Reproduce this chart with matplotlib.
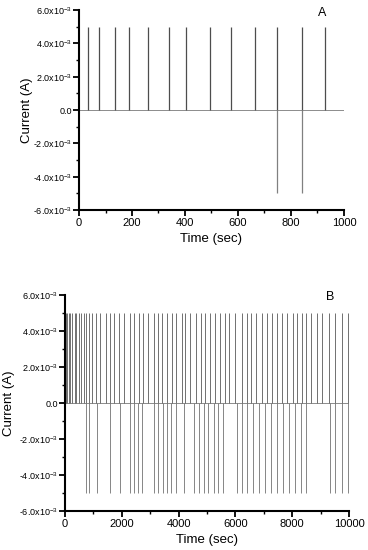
import matplotlib
matplotlib.use("Agg")
import matplotlib.pyplot as plt
from matplotlib.ticker import MultipleLocator, FuncFormatter

plt.rcParams["font.family"] = ["Liberation Sans", "DejaVu Sans"]
plt.rcParams["mathtext.fontset"] = "custom"
plt.rcParams["mathtext.rm"] = "Liberation Sans"
plt.rcParams["mathtext.it"] = "Liberation Sans:italic"
plt.rcParams["mathtext.bf"] = "Liberation Sans:bold"

PEAK = 5e-3

# panel A: 0-1000 s
a_up = [34, 77, 135, 190, 262, 340, 404, 494, 572, 664, 746, 841, 928]
a_down = [746, 841]

# panel B: 0-10000 s
b_up = [34, 77, 135, 190, 262, 340, 404, 494, 572, 664, 729, 846, 952,
        1105, 1246, 1434, 1598, 1727, 1904, 2068, 2303, 2421, 2609, 2750,
        2938, 3126, 3267, 3431, 3596, 3760, 3925, 4113, 4230, 4418, 4630,
        4794, 4935, 5123, 5276, 5452, 5640, 5781, 5993, 6228, 6416, 6533,
        6722, 6933, 7098, 7286, 7474, 7638, 7826, 8014, 8155, 8343, 8484,
        8649, 8860, 9048, 9307, 9495, 9753, 9965]
b_down = [729, 846, 1140, 1575, 1927, 2303, 2444, 2585, 2714, 3126, 3290,
          3455, 3596, 3737, 3901, 4207, 4559, 4724, 4888, 5053, 5241, 5394,
          5570, 6040, 6240, 6416, 6616, 6815, 7027, 7239, 7450, 7662, 7873,
          8108, 8296, 8484, 9330, 9507, 9753, 9965]


def y_fmt(v, pos):
    if abs(v) < 1e-9:
        return "0.0"
    return f"{v * 1e3:.1f}x10$^{{-3}}$"


def style_axis(ax, xmax, xmajor, xminor, tag, tag_xy, ylab_x):
    ax.set_xlim(0, xmax)
    ax.set_ylim(-6e-3, 6e-3)
    ax.xaxis.set_major_locator(MultipleLocator(xmajor))
    ax.xaxis.set_minor_locator(MultipleLocator(xminor))
    ax.yaxis.set_major_locator(MultipleLocator(2e-3))
    ax.yaxis.set_minor_locator(MultipleLocator(1e-3))
    ax.yaxis.set_major_formatter(FuncFormatter(y_fmt))
    for side in ["top", "right"]:
        ax.spines[side].set_visible(False)
    for side in ["left", "bottom"]:
        ax.spines[side].set_linewidth(1.5)
    ax.tick_params(which="major", direction="out", length=4, width=1.3)
    ax.tick_params(which="minor", direction="out", length=2.5, width=1.0)
    ax.tick_params(axis="y", labelsize=6.5, pad=1)
    ax.tick_params(axis="x", labelsize=8, pad=2)
    ax.set_xlabel("Time (sec)", fontsize=9.5, labelpad=3)
    ax.set_ylabel("Current (A)", fontsize=9.5)
    ax.yaxis.set_label_coords(ylab_x, 0.5)
    ax.text(tag_xy[0], tag_xy[1], tag, transform=ax.transAxes, fontsize=9,
            ha="center", va="center")


fig = plt.figure(figsize=(3.68, 5.5), dpi=100)

ax1 = fig.add_axes([0.2147, 0.618, 0.720, 0.3636])
ax1.axhline(0, color="0.55", lw=0.7)
ax1.vlines(a_up, 0, PEAK, color="0.3", lw=0.9)
ax1.vlines(a_down, -PEAK, 0, color="0.5", lw=0.9)
style_axis(ax1, 1000, 200, 100, "A", (0.917, 0.985), -0.174)

ax2 = fig.add_axes([0.1766, 0.0709, 0.7717, 0.3927])
ax2.axhline(0, color="0.55", lw=0.7)
ax2.vlines(b_up, 0, PEAK, color="0.35", lw=0.6)
ax2.vlines(b_down, -PEAK, 0, color="0.45", lw=0.6)
style_axis(ax2, 10000, 2000, 1000, "B", (0.933, 0.99), -0.176)

fig.savefig("out.png", dpi=100)
